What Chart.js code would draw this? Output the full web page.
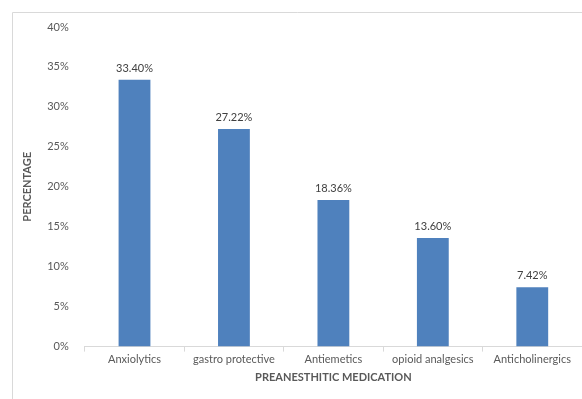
<!DOCTYPE html>
<html>
<head>
<meta charset="utf-8">
<script src="https://cdn.jsdelivr.net/npm/chart.js@4"></script>
<style>
  html, body { margin: 0; padding: 0; background: #fff; }
  #wrap { width: 582px; height: 399px; position: relative; }
</style>
</head>
<body>
<div id="wrap"><canvas id="medChart" width="582" height="399"></canvas></div>
<script>
var categories = ["Anxiolytics", "gastro protective", "Antiemetics", "opioid analgesics", "Anticholinergics"];
var percentages = [33.40, 27.22, 18.36, 13.60, 7.42];
var yTicks = [0, 5, 10, 15, 20, 25, 30, 35, 40];

var textFont = "Lato, 'Open Sans', sans-serif";

// outer frame of the picture (only top and left edges are visible)
var framePlugin = {
  id: 'frame',
  beforeDraw: function (chart) {
    var c = chart.ctx;
    c.save();
    c.strokeStyle = '#d9d9d9';
    c.lineWidth = 1;
    c.beginPath();
    c.moveTo(12.5, 399);
    c.lineTo(12.5, 12.5);
    c.lineTo(582, 12.5);
    c.stroke();
    c.restore();
  }
};

// value labels above each bar
var valueLabels = {
  id: 'valueLabels',
  afterDatasetsDraw: function (chart) {
    var c = chart.ctx;
    var meta = chart.getDatasetMeta(0);
    c.save();
    c.fillStyle = '#404040';
    c.font = '11px ' + textFont;
    c.textAlign = 'center';
    c.textBaseline = 'bottom';
    meta.data.forEach(function (bar, i) {
      c.fillText(percentages[i].toFixed(2) + '%', bar.x, bar.y - 6);
    });
    c.restore();
  }
};

var ctx = document.getElementById('medChart').getContext('2d');
var medChart = new Chart(ctx, {
  type: 'bar',
  data: {
    labels: categories,
    datasets: [{
      data: percentages,
      backgroundColor: '#4f81bd',
      borderColor: '#4f81bd',
      barPercentage: 0.32,
      categoryPercentage: 1.0
    }]
  },
  options: {
    responsive: false,
    animation: false,
    layout: { padding: { top: 27, right: 0, bottom: 15, left: 21 } },
    plugins: {
      legend: { display: false },
      tooltip: { enabled: false }
    },
    scales: {
      x: {
        grid: {
          offset: true,
          drawOnChartArea: false,
          drawTicks: true,
          tickLength: 5,
          color: '#d9d9d9'
        },
        border: { color: '#d9d9d9' },
        ticks: { color: '#595959', font: { family: textFont, size: 11 }, padding: 1 },
        title: {
          display: true,
          text: 'PREANESTHITIC MEDICATION',
          color: '#595959',
          font: { family: textFont, size: 11, weight: 'bold' },
          padding: { top: 4, bottom: 0 }
        }
      },
      y: {
        min: 0,
        max: 40,
        afterBuildTicks: function (axis) {
          axis.ticks = yTicks.map(function (v) { return { value: v }; });
        },
        grid: { display: false },
        border: { display: false },
        ticks: {
          color: '#595959',
          font: { family: textFont, size: 11 },
          padding: 8,
          callback: function (v) { return v + '%'; }
        },
        title: {
          display: true,
          text: 'PERCENTAGE',
          color: '#595959',
          font: { family: textFont, size: 11, weight: 'bold' },
          padding: { top: 0, bottom: 5 }
        }
      }
    }
  },
  plugins: [framePlugin, valueLabels]
});
</script>
</body>
</html>
